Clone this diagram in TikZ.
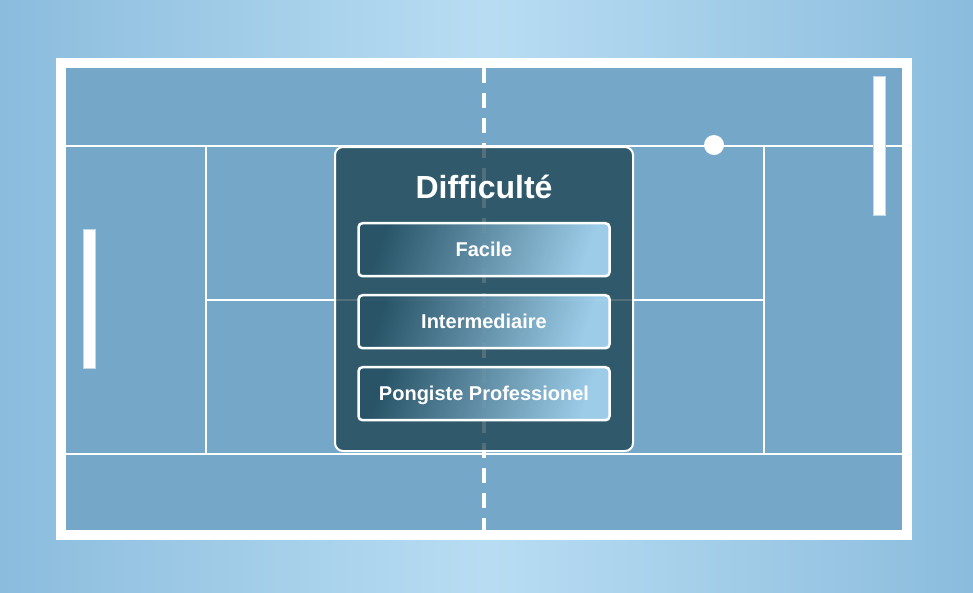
\documentclass[tikz,border=0pt]{standalone}
\usepackage{fontspec}
\setmainfont{Liberation Sans}
\usepackage{xcolor}
\usepackage{tikz}
\usetikzlibrary{positioning,shadings}
\definecolor{fondbord}{HTML}{8BBCDD}
\definecolor{fondmilieu}{HTML}{B8DDF3}
\definecolor{terrain}{HTML}{75A8C8}
\definecolor{panneau}{RGB}{26,64,77}
\definecolor{btnfonce}{RGB}{40,84,104}
\definecolor{btnclair}{RGB}{176,225,255}

\begin{document}
\begin{tikzpicture}[x=1pt,y=-1pt,
  ligne/.style={white,line width=2pt},
  raquette/.style={fill=white,draw=white!55!terrain,line width=0.8pt},
  choix/.style={draw=white,line width=2.5pt,rounded corners=4pt,fill opacity=0.85,text opacity=1,
    top color=btnfonce,bottom color=btnclair,shading angle=72,
    minimum width=251pt,minimum height=53pt,inner sep=0pt,text=white,
    font=\bfseries\fontsize{20}{24}\selectfont,text height=14.5pt,text depth=0pt}]
  \useasboundingbox (0,0) rectangle (973,592);
  \shade[left color=fondbord,right color=fondbord,middle color=fondmilieu] (0,0) rectangle (973,592); %背景渐变
  \fill[white] (56,58) rectangle (912,540);
  \fill[terrain] (66,68) rectangle (902,530);
  \draw[ligne] (66,146) -- (902,146);
  \draw[ligne] (66,454) -- (902,454);
  \draw[ligne] (206,146) -- (206,454);
  \draw[ligne] (764,146) -- (764,454);
  \draw[ligne] (206,300) -- (764,300);
  \draw[white,line width=4pt,dash pattern=on 15pt off 10pt] (484,68) -- (484,530); %中线
  \filldraw[raquette] (83,229) rectangle (95,368);
  \filldraw[raquette] (873,76) rectangle (885,215);
  \fill[white] (714,145) circle [radius=10];
  % 菜单
  \node[draw=white,line width=2pt,rounded corners=8pt,fill=panneau,fill opacity=0.75,
    minimum width=298pt,minimum height=304pt] (panneau) at (484,299) {};
  \node[anchor=base,text=white,font=\bfseries\fontsize{32}{38}\selectfont] (titre) at (484,198) {Difficulté};
  \node[choix] (facile) at (484,249.7) {Facile};
  \node[choix] (inter) at (484,321.7) {Intermediaire};
  \node[choix] (pro) at (484,393.7) {Pongiste Professionel};
\end{tikzpicture}
\end{document}
